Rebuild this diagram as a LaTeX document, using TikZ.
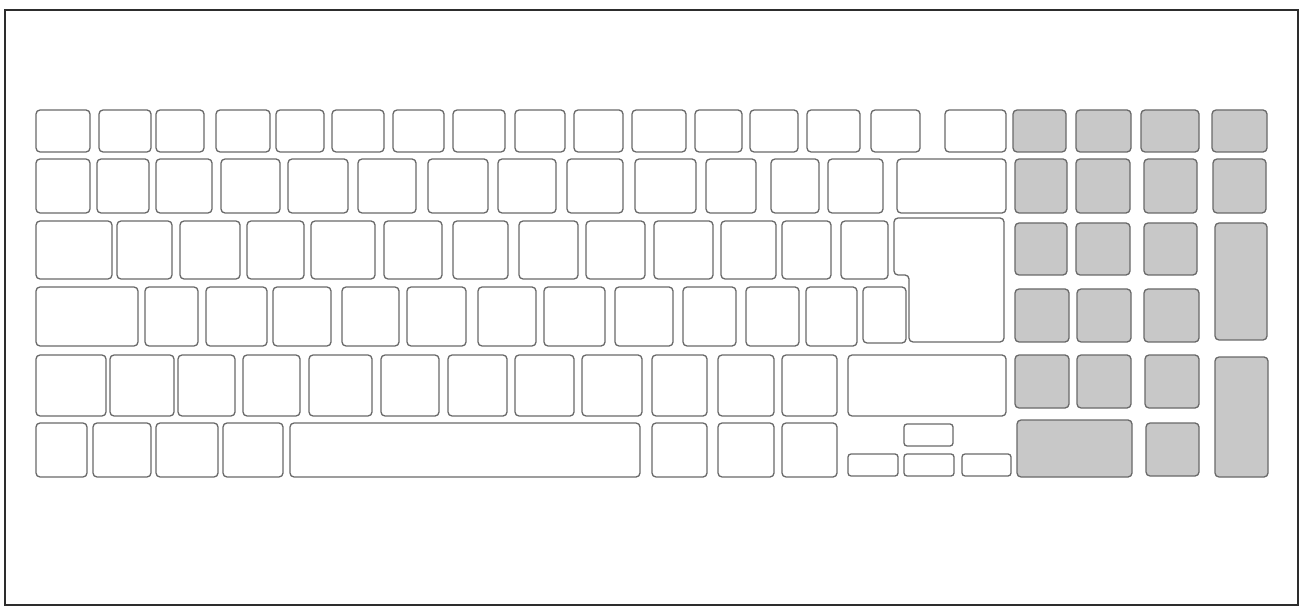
\documentclass[tikz,border=0pt]{standalone}
\begin{document}
\begin{tikzpicture}[x=1pt,y=-1pt,
  keyw/.style={draw={rgb,255:red,105;green,105;blue,105}, line width=1.3pt, rounded corners=4pt, fill=white},
  keyg/.style={keyw, fill={rgb,255:red,200;green,200;blue,200}},
  frame/.style={draw={rgb,255:red,45;green,45;blue,45}, line width=2pt}]
\useasboundingbox (0,0) rectangle (1303,609);
\draw[frame] (5,10.5) rectangle (1298,604.5);
% row 1
\foreach \a/\b in {36/90,99/151,156/204,216/270,276/324,332/384,393/444,453/505,515/565,574/623,632/686,695/742,750/798,807/860,871/920,945/1006}
  \draw[keyw] (\a,110) rectangle (\b,152);
\foreach \a/\b in {1013/1066,1076/1131,1141/1199,1212/1267}
  \draw[keyg] (\a,110) rectangle (\b,152);
% row 2
\foreach \a/\b in {36/90,97/149,156/212,221/280,288/348,358/416,428/488,498/556,567/623,635/696,706/756,771/819,828/883,897/1006}
  \draw[keyw] (\a,159) rectangle (\b,213);
\foreach \a/\b in {1015/1067,1076/1130,1144/1197,1213/1266}
  \draw[keyg] (\a,159) rectangle (\b,213);
% row 3
\foreach \a/\b in {36/112,117/172,180/240,247/304,311/375,384/442,453/508,519/578,586/645,654/713,721/776,782/831,841/888}
  \draw[keyw] (\a,221) rectangle (\b,279);
\draw[keyw] (894,218) -- (1004,218) -- (1004,342) -- (909,342) -- (909,275) -- (894,275) -- cycle;
\foreach \a/\b in {1015/1067,1076/1130,1144/1197}
  \draw[keyg] (\a,223) rectangle (\b,275);
\draw[keyg] (1215,223) rectangle (1267,340);
% row 4
\foreach \a/\b in {36/138,145/198,206/267,273/331,342/399,407/466,478/536,544/605,615/673,683/736,746/799,806/857}
  \draw[keyw] (\a,287) rectangle (\b,346);
\draw[keyw] (863,287) rectangle (906,343);
\foreach \a/\b in {1015/1069,1077/1131,1144/1199}
  \draw[keyg] (\a,289) rectangle (\b,342);
% row 5
\foreach \a/\b in {36/106,110/174,178/235,243/300,309/372,381/439,448/507,515/574,582/642,652/707,718/774,782/837,848/1006}
  \draw[keyw] (\a,355) rectangle (\b,416);
\foreach \a/\b in {1015/1069,1077/1131,1145/1199}
  \draw[keyg] (\a,355) rectangle (\b,408);
\draw[keyg] (1215,357) rectangle (1268,477);
% row 6
\foreach \a/\b in {36/87,93/151,156/218,223/283,290/640,652/707,718/774,782/837}
  \draw[keyw] (\a,423) rectangle (\b,477);
\draw[keyw, rounded corners=3pt] (904,424) rectangle (953,446);
\foreach \a/\b in {848/898,904/954,962/1011}
  \draw[keyw, rounded corners=3pt] (\a,454) rectangle (\b,476);
\draw[keyg] (1017,420) rectangle (1132,477);
\draw[keyg] (1146,423) rectangle (1199,476);
\end{tikzpicture}
\end{document}
